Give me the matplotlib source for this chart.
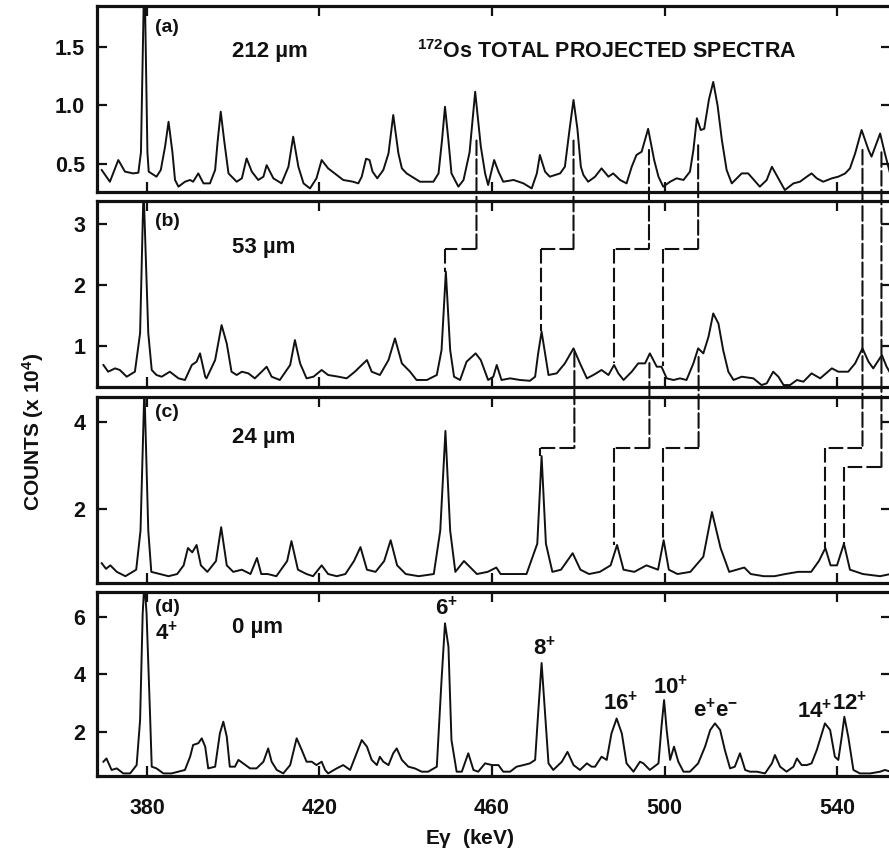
import matplotlib
matplotlib.use("Agg")
import matplotlib.pyplot as plt
from matplotlib.patches import ConnectionPatch

plt.rcParams['font.family'] = ['Liberation Sans', 'DejaVu Sans']
plt.rcParams['font.weight'] = 'bold'
plt.rcParams['mathtext.fontset'] = 'custom'
plt.rcParams['mathtext.rm'] = 'Liberation Sans:bold'
plt.rcParams['mathtext.it'] = 'Liberation Sans:bold'
plt.rcParams['mathtext.bf'] = 'Liberation Sans:bold'
plt.rcParams['mathtext.default'] = 'rm'

# ---------------- data (energy in keV, counts in units of 10^4) ----------------
energy_a = [369.5, 371.4, 373.35, 374.9, 376.8, 378.0, 378.6, 379.4, 380.1, 380.4, 382.2, 383.2, 384.2, 385.0,
            385.9, 386.5, 387.3, 388.8, 390.0, 390.7, 391.9, 393.1, 394.6, 395.8, 396.4, 397.1, 397.9, 398.9,
            400.8, 402.0, 403.1, 404.3, 405.8, 407.0, 407.75, 409.3, 411.2, 412.8, 413.9, 415.1, 416.3, 417.8,
            419.3, 420.5, 422.0, 424.0, 425.5, 427.8, 429.0, 429.8, 430.8, 431.6, 432.3, 433.4, 434.8, 436.0,
            437.1, 438.3, 439.1, 440.2, 443.3, 446.4, 447.6, 448.4, 449.1, 449.9, 450.6, 452.2, 453.4, 454.8,
            456.1, 457.4, 458.4, 459.1, 460.5, 461.5, 462.6, 465.0, 467.3, 469.2, 470.4, 471.1, 472.3, 473.4,
            475.8, 476.9, 478.0, 478.9, 479.8, 480.6, 481.2, 482.3, 483.9, 485.4, 487.0, 488.1, 489.7, 491.2,
            492.4, 493.5, 494.7, 496.2, 497.6, 498.6, 499.7, 501.3, 502.8, 504.4, 505.9, 506.7, 507.5, 508.4,
            509.2, 510.3, 511.3, 512.3, 513.3, 514.4, 515.6, 517.9, 519.4, 522.1, 523.7, 524.9, 526.4, 527.9,
            529.9, 531.4, 533.0, 534.1, 535.3, 536.8, 538.8, 540.3, 541.9, 543.0, 544.2, 545.7, 547.3, 548.0,
            550.0, 551.1, 552.3]
counts_a = [0.449, 0.349, 0.534, 0.435, 0.42, 0.426, 0.6, 2.2, 0.6, 0.435, 0.392, 0.449, 0.65, 0.86,
            0.6, 0.364, 0.307, 0.349, 0.364, 0.349, 0.42, 0.335, 0.335, 0.449, 0.7, 0.946, 0.7, 0.42,
            0.349, 0.378, 0.548, 0.435, 0.364, 0.392, 0.49, 0.378, 0.335, 0.477, 0.733, 0.477, 0.335, 0.292,
            0.378, 0.534, 0.463, 0.406, 0.364, 0.349, 0.335, 0.392, 0.545, 0.534, 0.435, 0.378, 0.449, 0.59,
            0.918, 0.59, 0.463, 0.42, 0.349, 0.349, 0.42, 0.7, 0.988, 0.7, 0.42, 0.307, 0.364, 0.6,
            1.116, 0.65, 0.42, 0.321, 0.534, 0.435, 0.349, 0.364, 0.335, 0.292, 0.42, 0.577, 0.435, 0.392,
            0.42, 0.477, 0.8, 1.046, 0.8, 0.477, 0.406, 0.349, 0.392, 0.463, 0.392, 0.42, 0.364, 0.335,
            0.477, 0.577, 0.605, 0.80, 0.534, 0.392, 0.307, 0.349, 0.378, 0.364, 0.435, 0.62, 0.89, 0.79,
            0.80, 1.05, 1.2, 1.0, 0.705, 0.449, 0.335, 0.42, 0.42, 0.307, 0.364, 0.477, 0.378, 0.278,
            0.335, 0.349, 0.392, 0.42, 0.378, 0.349, 0.378, 0.392, 0.42, 0.463, 0.59, 0.79, 0.62, 0.563,
            0.76, 0.59, 0.42]

energy_b = [369.9, 371.0, 372.6, 373.7, 375.3, 377.2, 378.4, 379.2, 380.3, 381.1, 382.2, 383.4, 385.3, 387.3,
            388.8, 390.4, 391.5, 392.3, 393.5, 393.8, 395.8, 397.3, 398.5, 399.6, 400.8, 402.0, 403.5, 405.0,
            406.6, 407.75, 408.9, 410.8, 413.2, 414.3, 415.5, 417.0, 418.6, 420.5, 422.0, 424.4, 426.3, 428.2,
            429.8, 431.0, 432.1, 434.0, 436.0, 437.5, 439.1, 441.0, 442.5, 444.9, 447.2, 448.3, 449.3, 450.3,
            451.2, 452.6, 454.1, 456.2, 457.4, 459.1, 460.3, 461.1, 462.2, 464.2, 466.5, 468.8, 470.0, 470.7,
            471.5, 472.3, 473.1, 475.0, 476.9, 478.9, 480.4, 482.0, 483.5, 485.4, 487.0, 488.3, 489.3, 490.5,
            492.4, 493.9, 495.5, 496.6, 498.2, 499.3, 500.5, 502.1, 503.6, 505.1, 506.7, 507.8, 509.0, 510.2,
            511.3, 512.5, 513.6, 514.8, 516.0, 517.9, 520.6, 522.5, 523.7, 525.2, 526.4, 527.6, 529.1, 530.7,
            532.2, 534.1, 536.1, 538.8, 540.3, 542.6, 544.2, 545.9, 547.3, 548.4, 550.4, 551.5, 552.4]
counts_b = [0.689, 0.579, 0.634, 0.607, 0.497, 0.579, 1.21, 3.6, 1.21, 0.607, 0.525, 0.497, 0.579, 0.47,
            0.443, 0.689, 0.743, 0.88, 0.497, 0.47, 0.77, 1.344, 1.04, 0.579, 0.525, 0.579, 0.552, 0.47,
            0.579, 0.661, 0.497, 0.443, 0.689, 1.098, 0.716, 0.47, 0.497, 0.607, 0.525, 0.497, 0.47, 0.579,
            0.689, 0.77, 0.579, 0.525, 0.77, 1.126, 0.716, 0.579, 0.443, 0.443, 0.525, 0.934, 2.22, 0.934,
            0.497, 0.443, 0.743, 0.88, 0.77, 0.443, 0.497, 0.689, 0.443, 0.47, 0.443, 0.43, 0.497, 0.88,
            1.235, 0.88, 0.525, 0.552, 0.716, 0.962, 0.716, 0.47, 0.525, 0.607, 0.525, 0.689, 0.552, 0.443,
            0.579, 0.716, 0.716, 0.88, 0.661, 0.661, 0.47, 0.443, 0.47, 0.443, 0.716, 0.962, 0.88, 1.153,
            1.535, 1.37, 0.934, 0.579, 0.443, 0.497, 0.47, 0.36, 0.388, 0.579, 0.497, 0.36, 0.36, 0.443,
            0.415, 0.552, 0.47, 0.634, 0.579, 0.579, 0.716, 0.962, 0.743, 0.634, 0.852, 0.661, 0.55]

energy_c = [369.5, 370.5, 371.5, 373.0, 375.0, 377.5, 378.5, 379.4, 380.3, 381.0, 383.0, 385.0, 387.0, 388.5,
            389.5, 390.5, 391.5, 392.5, 394.0, 396.0, 397.2, 398.5, 400.0, 402.0, 404.0, 405.5, 406.5, 408.0,
            410.0, 412.5, 413.5, 415.0, 417.0, 418.5, 420.5, 422.0, 424.0, 426.0, 428.0, 429.5, 431.0, 433.0,
            435.0, 436.5, 438.0, 440.0, 443.0, 446.5, 448.0, 449.2, 450.3, 451.5, 453.5, 455.0, 456.5, 459.0,
            461.0, 462.0, 465.0, 468.0, 470.5, 471.5, 472.5, 474.0, 476.0, 478.7, 480.5, 482.5, 485.0, 487.5,
            489.0, 490.5, 493.0, 495.8, 498.5, 499.8, 501.0, 503.0, 506.0, 509.0, 511.0, 513.0, 515.0, 518.5,
            520.0, 523.0, 525.5, 528.0, 531.0, 534.0, 535.8, 537.3, 538.5, 540.0, 541.6, 543.0, 546.0, 550.0,
            552.4]
counts_c = [0.75, 0.62, 0.7, 0.55, 0.45, 0.6, 1.5, 4.8, 1.5, 0.55, 0.5, 0.45, 0.5, 0.7,
            1.1, 1.0, 1.17, 0.7, 0.55, 0.8, 1.58, 0.7, 0.55, 0.6, 0.5, 0.87, 0.5, 0.5,
            0.45, 0.8, 1.26, 0.6, 0.5, 0.45, 0.7, 0.5, 0.45, 0.5, 0.8, 1.12, 0.6, 0.55,
            0.8, 1.28, 0.7, 0.5, 0.45, 0.5, 1.5, 3.8, 1.5, 0.55, 0.8, 0.65, 0.5, 0.55,
            0.65, 0.5, 0.5, 0.5, 1.2, 3.22, 1.2, 0.55, 0.6, 0.98, 0.6, 0.5, 0.55, 0.7,
            1.17, 0.6, 0.55, 0.7, 0.6, 1.28, 0.6, 0.5, 0.55, 0.9, 1.93, 1.1, 0.55, 0.65,
            0.5, 0.45, 0.45, 0.5, 0.55, 0.55, 0.8, 1.1, 0.7, 0.7, 1.2, 0.6, 0.5, 0.45,
            0.5]

energy_d = [369.9, 370.6, 371.8, 373.0, 374.5, 376.1, 377.6, 378.4, 379.0, 379.4, 379.9, 380.7, 381.1, 382.2,
            383.8, 385.7, 387.3, 388.8, 390.0, 390.7, 391.9, 392.7, 393.5, 394.2, 395.8, 396.9, 397.7, 398.5,
            399.2, 400.4, 401.2, 402.3, 403.9, 405.4, 407.0, 408.1, 408.9, 410.1, 411.6, 413.2, 414.7, 415.9,
            417.0, 418.2, 419.3, 420.5, 421.3, 422.0, 424.0, 425.5, 427.1, 428.6, 429.8, 431.0, 432.1, 433.3,
            434.0, 434.8, 436.0, 437.1, 437.9, 439.1, 440.6, 442.1, 443.7, 445.2, 447.2, 448.3, 449.1, 449.9,
            450.6, 451.8, 453.0, 454.5, 455.7, 456.8, 458.4, 460.0, 461.5, 462.6, 464.2, 465.7, 467.3, 468.8,
            470.0, 470.7, 471.5, 472.3, 473.1, 474.2, 476.2, 477.5, 478.9, 480.4, 482.0, 483.1, 483.9, 485.4,
            486.6, 487.7, 488.9, 490.1, 491.2, 492.8, 494.3, 495.1, 496.6, 498.6, 499.3, 499.9, 500.5, 501.3,
            502.2, 503.2, 504.4, 505.9, 507.8, 509.4, 510.6, 511.7, 512.9, 514.0, 515.2, 516.3, 517.5, 518.7,
            519.8, 521.4, 523.3, 524.9, 525.6, 526.8, 528.3, 529.9, 530.7, 531.8, 533.0, 534.1, 535.3, 536.5,
            537.2, 538.4, 539.5, 540.3, 541.1, 541.7, 542.6, 543.8, 545.3, 547.7, 550.0, 551.1, 552.4]
counts_d = [0.957, 1.07, 0.67, 0.725, 0.55, 0.55, 0.84, 2.4, 6.1, 7.2, 6.12, 2.64, 0.784, 0.725,
            0.55, 0.55, 0.61, 0.67, 1.13, 1.54, 1.6, 1.77, 1.48, 0.725, 0.784, 1.94, 2.35, 1.83,
            0.784, 0.784, 1.02, 0.9, 0.725, 0.725, 0.957, 1.42, 0.957, 0.67, 0.55, 0.84, 1.77, 1.36,
            0.957, 0.957, 0.84, 0.957, 0.67, 0.55, 0.725, 0.84, 0.67, 1.25, 1.71, 1.48, 1.02, 0.84,
            1.13, 0.957, 0.84, 1.25, 1.42, 1.02, 0.784, 0.725, 0.61, 0.61, 0.784, 3.8, 5.77, 4.96,
            1.71, 0.61, 0.61, 1.25, 0.67, 0.61, 0.9, 0.84, 0.84, 0.61, 0.61, 0.784, 0.84, 0.9,
            1.02, 2.64, 4.39, 2.64, 0.9, 0.67, 0.957, 1.3, 0.84, 0.67, 0.9, 0.784, 0.784, 1.13,
            1.02, 1.94, 2.46, 1.94, 0.9, 0.61, 0.957, 0.9, 0.67, 0.9, 2.18, 3.1, 2.06, 1.02,
            1.48, 0.957, 0.61, 0.61, 0.9, 1.48, 2.06, 2.29, 2.06, 1.36, 0.725, 0.784, 1.25, 0.67,
            0.61, 0.61, 0.55, 0.9, 1.19, 0.784, 0.61, 0.784, 1.07, 0.84, 0.84, 0.9, 1.36, 1.94,
            2.29, 2.06, 1.13, 1.02, 1.83, 2.52, 1.83, 0.67, 0.55, 0.55, 0.61, 0.67, 0.61]

panel_tags = ["(a)", "(b)", "(c)", "(d)"]
panel_depths = ["212 \u00b5m", "53 \u00b5m", "24 \u00b5m", "0 \u00b5m"]
yticks_list = [[0.5, 1.0, 1.5], [1, 2, 3], [2, 4], [2, 4, 6]]
yticklabels_list = [["0.5", "1.0", "1.5"], ["1", "2", "3"], ["2", "4"], ["2", "4", "6"]]
ylims = [(0.264, 1.847), (0.333, 3.38), (0.30, 4.59), (0.46, 6.87)]
xticks = [380, 420, 460, 500, 540]
xticklabels = ["380", "420", "460", "500", "540"]

line_labels = ["6$^{+}$", "8$^{+}$", "16$^{+}$", "10$^{+}$", "e$^{+}$e$^{-}$", "14$^{+}$", "12$^{+}$"]
line_label_E = [449.5, 472.2, 489.9, 501.4, 511.9, 534.8, 543.0]
line_label_y = [6.30, 4.88, 3.0, 3.55, 2.75, 2.72, 3.0]

# gates a -> b
gate_ab_shift = [456.4, 478.9, 496.4, 507.8]
gate_ab_stop = [449.2, 471.3, 488.2, 499.6]
gate_ab_start = [0.70, 0.70, 0.62, 0.66]
gate_ab_end = [2.22, 1.24, 0.72, 0.68]
gate_ab_level = 2.6
# gates b -> c
gate_bc_shift = [479.1, 496.5, 507.9, 545.9, 550.3]
gate_bc_stop = [471.2, 488.4, 499.6, 537.2, 541.6]
gate_bc_from = ['b', 'b', 'b', 'a', 'a']
gate_bc_start = [0.90, 0.72, 0.82, 0.62, 0.60]
gate_bc_level = [3.41, 3.41, 3.41, 3.41, 2.97]
gate_bc_end = [3.22, 1.17, 1.28, 1.1, 1.2]

# ---------------- figure ----------------
W, H = 889, 856
fig = plt.figure(figsize=(W / 100, H / 100), dpi=100)
INK = '#111111'


def box(top, bottom, left=97.0, right=890.5):
    return [left / W, 1 - bottom / H, (right - left) / W, (bottom - top) / H]


tops = [6.0, 201.0, 396.7, 591.7]
bottoms = [191.7, 386.7, 582.7, 776.0]
axes = [fig.add_axes(box(t, b)) for t, b in zip(tops, bottoms)]
spectra = [(energy_a, counts_a), (energy_b, counts_b), (energy_c, counts_c), (energy_d, counts_d)]

for i, ax in enumerate(axes):
    e, c = spectra[i]
    ax.plot(e, c, color=INK, lw=1.4, solid_joinstyle='round')
    ax.set_xlim(368.41, 552.4)
    ax.set_ylim(*ylims[i])
    ax.set_yticks(yticks_list[i])
    ax.set_yticklabels(yticklabels_list[i])
    ax.set_xticks(xticks)
    if i == 3:
        ax.set_xticklabels(xticklabels)
    else:
        ax.set_xticklabels([])
    ax.tick_params(direction='in', length=7, width=1.6, top=True, right=True,
                   labelsize=15.5, colors=INK)
    ax.tick_params(axis='y', pad=8.5)
    ax.tick_params(axis='x', pad=16)
    for sp in ax.spines.values():
        sp.set_linewidth(2.3)
        sp.set_color(INK)

tag_y = [28, 222, 413, 608]
depth_y = [52, 247, 438, 627]
for i in range(4):
    fig.text(155 / W, 1 - tag_y[i] / H, panel_tags[i], fontsize=14, ha='left', va='center', color=INK)
    fig.text(232 / W, 1 - depth_y[i] / H, panel_depths[i], fontsize=16, ha='left', va='center', color=INK)

fig.text(155 / W, 1 - 633 / H, "4$^{+}$", fontsize=16, ha='left', va='center', color=INK)
fig.text(417 / W, 1 - 52 / H, "$^{172}$Os TOTAL PROJECTED SPECTRA", fontsize=15.5, ha='left', va='center',
         color=INK)

axd = axes[3]
for lab, xe, ye in zip(line_labels, line_label_E, line_label_y):
    axd.text(xe, ye, lab, fontsize=16, ha='center', va='center', color=INK)

fig.text(33 / W, 1 - 432 / H, "COUNTS (x 10$^{4}$)", rotation=90, fontsize=15, ha='center', va='center',
         color=INK)
fig.text(470 / W, 1 - 838 / H, "E$\\gamma$  (keV)", fontsize=15, ha='center', va='center', color=INK)

# ---------------- dashed gate lines ----------------
dash = (0, (7, 2))
dkw = dict(color=INK, lw=1.5, linestyle=dash)
ax_a, ax_b, ax_c, ax_d = axes

for es, eo, y0, y1 in zip(gate_ab_shift, gate_ab_stop, gate_ab_start, gate_ab_end):
    cp = ConnectionPatch(xyA=(es, y0), coordsA=ax_a.transData, xyB=(es, gate_ab_level),
                         coordsB=ax_b.transData, **dkw)
    fig.add_artist(cp)
    ax_b.plot([es, eo], [gate_ab_level, gate_ab_level], **dkw)
    ax_b.plot([eo, eo], [gate_ab_level, y1], **dkw)

for es, eo, src, y0, lev, y1 in zip(gate_bc_shift, gate_bc_stop, gate_bc_from, gate_bc_start,
                                     gate_bc_level, gate_bc_end):
    src_ax = ax_b if src == 'b' else ax_a
    cp = ConnectionPatch(xyA=(es, y0), coordsA=src_ax.transData, xyB=(es, lev),
                         coordsB=ax_c.transData, **dkw)
    fig.add_artist(cp)
    ax_c.plot([es, eo], [lev, lev], **dkw)
    ax_c.plot([eo, eo], [lev, y1], **dkw)

fig.savefig("out.png", dpi=100)
